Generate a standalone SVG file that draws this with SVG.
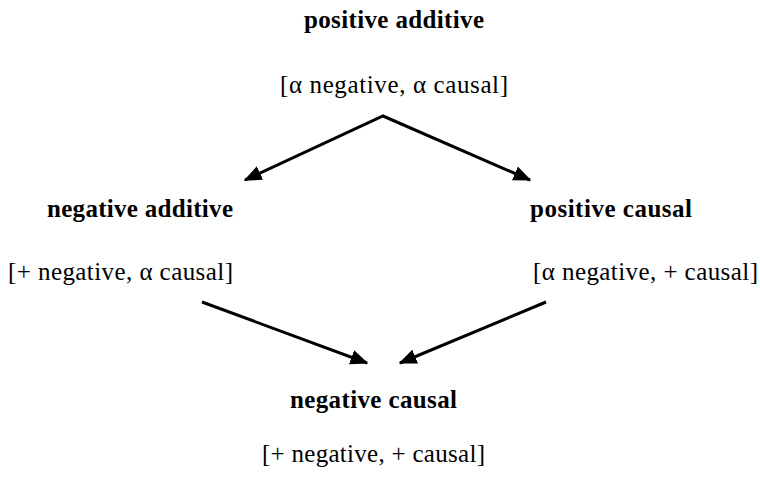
<svg xmlns="http://www.w3.org/2000/svg" width="760" height="479" viewBox="0 0 760 479">
<style>
.t{font-family:"Liberation Serif","Times New Roman",serif;font-size:25px;fill:#000}
.b{font-weight:bold}
.c{stroke:#000;stroke-width:3;fill:none;stroke-linejoin:miter}
</style>
<defs>
<marker id="ah" markerWidth="6" markerHeight="5" refX="5.5" refY="2.5" orient="auto-start-reverse" markerUnits="strokeWidth">
<path d="M0,0 L6,2.5 L0,5 Z" fill="#000"/>
</marker>
</defs>
<rect width="760" height="479" fill="#fff"/>
<g id="connectors">
<path class="c" d="M245,180 L383,116 L530,180" marker-start="url(#ah)" marker-end="url(#ah)"/>
<line class="c" x1="202" y1="302" x2="367" y2="363" marker-end="url(#ah)"/>
<line class="c" x1="546" y1="302" x2="400" y2="363" marker-end="url(#ah)"/>
</g>
<g id="positive-additive">
<text class="t b" x="304" y="28" textLength="180" lengthAdjust="spacing">positive additive</text>
<text class="t" x="280" y="93" textLength="228" lengthAdjust="spacing">[α negative, α causal]</text>
</g>
<g id="negative-additive">
<text class="t b" x="47" y="217" textLength="186" lengthAdjust="spacing">negative additive</text>
<text class="t" x="8" y="280" textLength="225" lengthAdjust="spacing">[+ negative, α causal]</text>
</g>
<g id="positive-causal">
<text class="t b" x="530" y="217" textLength="162" lengthAdjust="spacing">positive causal</text>
<text class="t" x="533" y="280" textLength="225" lengthAdjust="spacing">[α negative, + causal]</text>
</g>
<g id="negative-causal">
<text class="t b" x="290" y="408" textLength="167" lengthAdjust="spacing">negative causal</text>
<text class="t" x="262" y="462" textLength="223" lengthAdjust="spacing">[+ negative, + causal]</text>
</g>
</svg>
